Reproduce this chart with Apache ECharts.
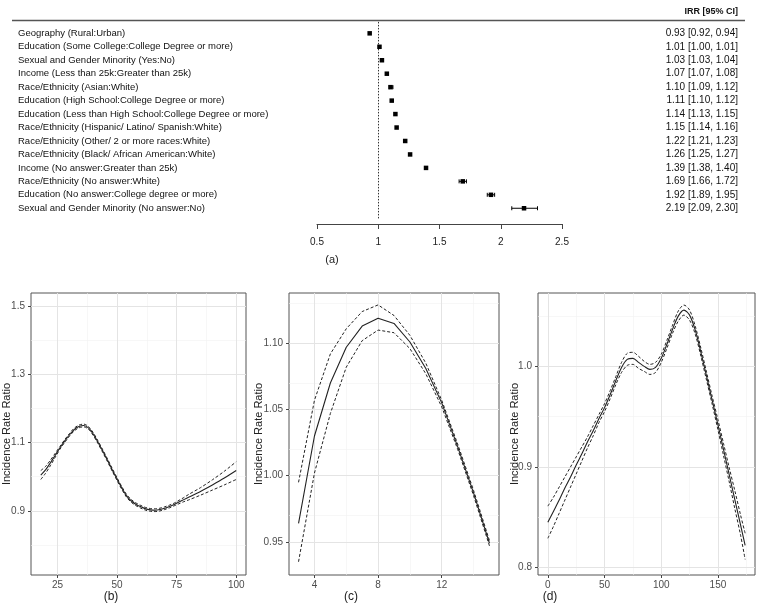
<!DOCTYPE html>
<html><head><meta charset="utf-8">
<script src="https://cdn.jsdelivr.net/npm/echarts@6/dist/echarts.min.js"></script>
<style>html,body{margin:0;padding:0;background:#fff}#c{width:758px;height:605px}</style>
</head><body><div id="c"></div>
<script>
// ---------- (a) forest plot data ----------
const forestLabels = [
  'Geography (Rural:Urban)',
  'Education (Some College:College Degree or more)',
  'Sexual and Gender Minority (Yes:No)',
  'Income (Less than 25k:Greater than 25k)',
  'Race/Ethnicity (Asian:White)',
  'Education (High School:College Degree or more)',
  'Education (Less than High School:College Degree or more)',
  'Race/Ethnicity (Hispanic/ Latino/ Spanish:White)',
  'Race/Ethnicity (Other/ 2 or more races:White)',
  'Race/Ethnicity (Black/ African American:White)',
  'Income (No answer:Greater than 25k)',
  'Race/Ethnicity (No answer:White)',
  'Education (No answer:College degree or more)',
  'Sexual and Gender Minority (No answer:No)'
];
const irr     = [0.93, 1.01, 1.03, 1.07, 1.10, 1.11, 1.14, 1.15, 1.22, 1.26, 1.39, 1.69, 1.92, 2.19];
const irrLow  = [0.92, 1.00, 1.03, 1.07, 1.09, 1.10, 1.13, 1.14, 1.21, 1.25, 1.38, 1.66, 1.89, 2.09];
const irrHigh = [0.94, 1.01, 1.04, 1.08, 1.12, 1.12, 1.15, 1.16, 1.23, 1.27, 1.40, 1.72, 1.95, 2.30];
const forestTicks = [0.5, 1, 1.5, 2, 2.5];
const rowIndex = [0,1,2,3,4,5,6,7,8,9,10,11,12,13];

// ---------- (b) ----------
const bX    = [18,20,22,24,26,28,30,32,34,36,38,40,42,44,46,48,50,52,54,56,58,60,62,64,66,68,70,72,74,76,78,80,85,90,95,100];
const bFit  = [1.005,1.020,1.040,1.062,1.084,1.104,1.122,1.138,1.147,1.150,1.143,1.125,1.101,1.075,1.048,1.020,0.993,0.967,0.944,0.929,0.919,0.912,0.906,0.903,0.902,0.904,0.908,0.913,0.919,0.926,0.933,0.940,0.957,0.976,0.996,1.018];
const bHigh = [1.018,1.030,1.048,1.068,1.088,1.108,1.126,1.142,1.151,1.154,1.147,1.129,1.105,1.079,1.052,1.024,0.997,0.971,0.948,0.933,0.923,0.916,0.910,0.907,0.906,0.908,0.912,0.917,0.923,0.931,0.939,0.948,0.968,0.991,1.016,1.044];
const bLow  = [0.992,1.010,1.032,1.056,1.080,1.100,1.118,1.134,1.143,1.146,1.139,1.121,1.097,1.071,1.044,1.016,0.989,0.963,0.940,0.925,0.915,0.908,0.902,0.899,0.898,0.900,0.904,0.909,0.915,0.921,0.927,0.932,0.946,0.961,0.976,0.992];
const bXTicks = [25, 50, 75, 100];
const bXMinor = [37.5, 62.5, 87.5];
const bYTicks = [0.9, 1.1, 1.3, 1.5];
const bYMinor = [0.8, 1.0, 1.2, 1.4];

// ---------- (c) ----------
const cX    = [3,4,5,6,7,8,9,10,11,12,13,14,15];
const cFit  = [0.964,1.030,1.070,1.097,1.113,1.119,1.115,1.101,1.081,1.055,1.022,0.987,0.949];
const cHigh = [0.995,1.057,1.092,1.111,1.124,1.129,1.121,1.106,1.085,1.057,1.024,0.989,0.951];
const cLow  = [0.935,1.002,1.047,1.082,1.102,1.110,1.108,1.096,1.077,1.052,1.020,0.985,0.947];
const cXTicks = [4, 8, 12];
const cXMinor = [6, 10, 14];
const cYTicks = [0.95, 1.00, 1.05, 1.10];
const cYMinor = [0.975, 1.025, 1.075, 1.125];

// ---------- (d) ----------
const dX    = [0,5,10,15,20,25,30,35,40,45,50,55,60,65,70,75,80,85,90,95,100,105,110,115,120,125,130,135,140,145,150,155,160,165,170,174];
const dFit  = [0.845,0.856,0.867,0.879,0.890,0.902,0.913,0.925,0.936,0.948,0.959,0.972,0.986,0.999,1.007,1.008,1.004,1.000,0.997,0.999,1.008,1.022,1.037,1.050,1.056,1.051,1.036,1.014,0.990,0.966,0.942,0.917,0.892,0.867,0.842,0.822];
const dHigh = [0.861,0.870,0.880,0.890,0.900,0.910,0.920,0.930,0.941,0.952,0.963,0.976,0.990,1.004,1.013,1.014,1.010,1.005,1.002,1.004,1.012,1.026,1.041,1.055,1.061,1.056,1.040,1.018,0.994,0.970,0.947,0.923,0.899,0.876,0.852,0.834];
const dLow  = [0.829,0.841,0.854,0.867,0.880,0.893,0.906,0.919,0.931,0.944,0.955,0.968,0.982,0.994,1.001,1.002,0.998,0.995,0.992,0.994,1.004,1.018,1.033,1.045,1.051,1.046,1.032,1.010,0.986,0.962,0.937,0.911,0.885,0.858,0.832,0.808];
const dXTicks = [0, 50, 100, 150];
const dXMinor = [25, 75, 125, 175];
const dYTicks = [0.8, 0.9, 1.0];
const dYMinor = [0.85, 0.95, 1.05];

// ---------- build ----------
const FONT = '"Liberation Sans", Arial, sans-serif';
const chart = echarts.init(document.getElementById('c'));
const zip = (xs, ys) => xs.map((x, i) => [x, ys[i]]);
const ciText = irr.map((v, i) => v.toFixed(2) + ' [' + irrLow[i].toFixed(2) + ', ' + irrHigh[i].toFixed(2) + ']');

const panels = [
  {grid: {left: 31, top: 293, width: 215, height: 282}, xr: [13.9, 104.1], yr: [0.7125, 1.5375],
   xt: bXTicks, xm: bXMinor, yt: bYTicks, ym: bYMinor, yd: 1, gap: 19, x: bX, fit: bFit, hi: bHigh, lo: bLow, smooth: 0.3},
  {grid: {left: 289, top: 293, width: 210, height: 282}, xr: [2.4, 15.6], yr: [0.925, 1.138],
   xt: cXTicks, xm: cXMinor, yt: cYTicks, ym: cYMinor, yd: 2, gap: 25, x: cX, fit: cFit, hi: cHigh, lo: cLow, smooth: false},
  {grid: {left: 538, top: 293, width: 217, height: 282}, xr: [-8.7, 182.7], yr: [0.7925, 1.073],
   xt: dXTicks, xm: dXMinor, yt: dYTicks, ym: dYMinor, yd: 1, gap: 18, x: dX, fit: dFit, hi: dHigh, lo: dLow, smooth: 0.3}
];

const grids = [{left: 317, top: 21.9, width: 245, height: 197.8, show: false}];
const xAxes = [{
  gridIndex: 0, type: 'value', min: 0.5, max: 2.5, interval: 0.5, offset: 4.3,
  axisLine: {show: true, onZero: false, lineStyle: {color: '#444', width: 1}},
  axisTick: {show: true, length: 5, lineStyle: {color: '#444'}},
  axisLabel: {margin: 13, fontSize: 10, color: '#222', fontFamily: FONT, showMinLabel: true, showMaxLabel: true},
  splitLine: {show: false}
}];
const yAxes = [
  {gridIndex: 0, type: 'value', min: -0.85, max: 13.85, inverse: true, position: 'left',
   axisLine: {show: false, onZero: false}, axisTick: {show: false}, splitLine: {show: false},
   axisLabel: {customValues: rowIndex, align: 'left', margin: 299, fontSize: 9.5, color: '#111', fontFamily: FONT,
     formatter: v => forestLabels[Math.round(v)] || ''}},
  {gridIndex: 0, type: 'value', min: -0.85, max: 13.85, inverse: true, position: 'right',
   axisLine: {show: false, onZero: false}, axisTick: {show: false}, splitLine: {show: false},
   axisLabel: {customValues: rowIndex, align: 'right', margin: 176, fontSize: 10, color: '#111', fontFamily: FONT,
     formatter: v => ciText[Math.round(v)] || ''}}
];
const series = [{
  type: 'custom', xAxisIndex: 0, yAxisIndex: 0, z: 5,
  data: irr.map((v, i) => [v, irrLow[i], irrHigh[i], rowIndex[i]]),
  encode: {x: [0, 1, 2], y: 3},
  renderItem: function (params, api) {
    const p = api.coord([api.value(0), api.value(3)]);
    const lo = api.coord([api.value(1), api.value(3)]);
    const hi = api.coord([api.value(2), api.value(3)]);
    const st = {stroke: '#000', lineWidth: 1};
    const ch = [];
    if (hi[0] - lo[0] > 3) {
      ch.push({type: 'line', shape: {x1: lo[0], y1: p[1], x2: hi[0], y2: p[1]}, style: st});
      ch.push({type: 'line', shape: {x1: lo[0], y1: p[1] - 2, x2: lo[0], y2: p[1] + 2}, style: st});
      ch.push({type: 'line', shape: {x1: hi[0], y1: p[1] - 2, x2: hi[0], y2: p[1] + 2}, style: st});
    }
    ch.push({type: 'rect', shape: {x: p[0] - 2.25, y: p[1] - 2.25, width: 4.5, height: 4.5}, style: {fill: '#000'}});
    return {type: 'group', children: ch};
  },
  markLine: {silent: true, symbol: ['none', 'none'], label: {show: false}, animation: false,
    lineStyle: {type: [1.5, 1.5], color: '#333', width: 1}, data: [{xAxis: 1}]}
}];

panels.forEach((pn, k) => {
  const gi = k + 1;
  grids.push(Object.assign({show: true, borderColor: '#555', borderWidth: 1, backgroundColor: '#fff'}, pn.grid));
  xAxes.push({
    gridIndex: gi, type: 'value', min: pn.xr[0], max: pn.xr[1],
    axisLine: {show: false, onZero: false},
    axisTick: {show: true, length: 3, customValues: pn.xt, lineStyle: {color: '#444'}},
    axisLabel: {customValues: pn.xt, margin: 5, fontSize: 10, color: '#4d4d4d', fontFamily: FONT},
    splitLine: {show: false}
  });
  yAxes.push({
    gridIndex: gi, type: 'value', min: pn.yr[0], max: pn.yr[1],
    name: 'Incidence Rate Ratio', nameLocation: 'middle', nameGap: pn.gap, nameMoveOverlap: false,
    nameTextStyle: {fontSize: 11, color: '#222', fontFamily: FONT},
    axisLine: {show: false, onZero: false},
    axisTick: {show: true, length: 3, customValues: pn.yt, lineStyle: {color: '#444'}},
    axisLabel: {customValues: pn.yt, margin: 6, fontSize: 10, color: '#4d4d4d', fontFamily: FONT,
      formatter: v => Number(v).toFixed(pn.yd)},
    splitLine: {show: false}
  });
  const xi = k + 1, yi = k + 2;
  const minorSt = {color: '#f2f2f2', width: 0.6, type: 'solid'};
  const majorSt = {color: '#e4e4e4', width: 1, type: 'solid'};
  const gl = [];
  pn.xm.forEach(v => gl.push({xAxis: v, lineStyle: minorSt}));
  pn.ym.forEach(v => gl.push({yAxis: v, lineStyle: minorSt}));
  pn.xt.forEach(v => gl.push({xAxis: v, lineStyle: majorSt}));
  pn.yt.forEach(v => gl.push({yAxis: v, lineStyle: majorSt}));
  const common = {type: 'line', xAxisIndex: xi, yAxisIndex: yi, showSymbol: false, symbol: 'none',
    smooth: pn.smooth, silent: true, animation: false, z: 3};
  series.push(Object.assign({}, common, {data: zip(pn.x, pn.hi), lineStyle: {color: '#222', width: 1, type: [3, 2]},
    markLine: {silent: true, symbol: ['none', 'none'], label: {show: false}, animation: false, z: 1, data: gl}}));
  series.push(Object.assign({}, common, {data: zip(pn.x, pn.lo), lineStyle: {color: '#222', width: 1, type: [3, 2]}}));
  series.push(Object.assign({}, common, {data: zip(pn.x, pn.fit), lineStyle: {color: '#222', width: 1.1}}));
});

chart.setOption({
  animation: false,
  textStyle: {fontFamily: FONT},
  grid: grids, xAxis: xAxes, yAxis: yAxes, series: series,
  graphic: [
    {type: 'line', shape: {x1: 12, y1: 20.5, x2: 745, y2: 20.5}, style: {stroke: '#555', lineWidth: 1.5}},
    {type: 'text', x: 738, y: 12, style: {text: 'IRR [95% CI]', font: 'bold 9px "Liberation Sans", Arial, sans-serif', fill: '#111', textAlign: 'right', textVerticalAlign: 'middle'}},
    {type: 'text', x: 332, y: 260, style: {text: '(a)', font: '11px "Liberation Sans", Arial, sans-serif', fill: '#222', textAlign: 'center', textVerticalAlign: 'middle'}},
    {type: 'text', x: 111, y: 597, style: {text: '(b)', font: '12px "Liberation Sans", Arial, sans-serif', fill: '#222', textAlign: 'center', textVerticalAlign: 'middle'}},
    {type: 'text', x: 351, y: 597, style: {text: '(c)', font: '12px "Liberation Sans", Arial, sans-serif', fill: '#222', textAlign: 'center', textVerticalAlign: 'middle'}},
    {type: 'text', x: 550, y: 597, style: {text: '(d)', font: '12px "Liberation Sans", Arial, sans-serif', fill: '#222', textAlign: 'center', textVerticalAlign: 'middle'}}
  ]
});
</script></body></html>
